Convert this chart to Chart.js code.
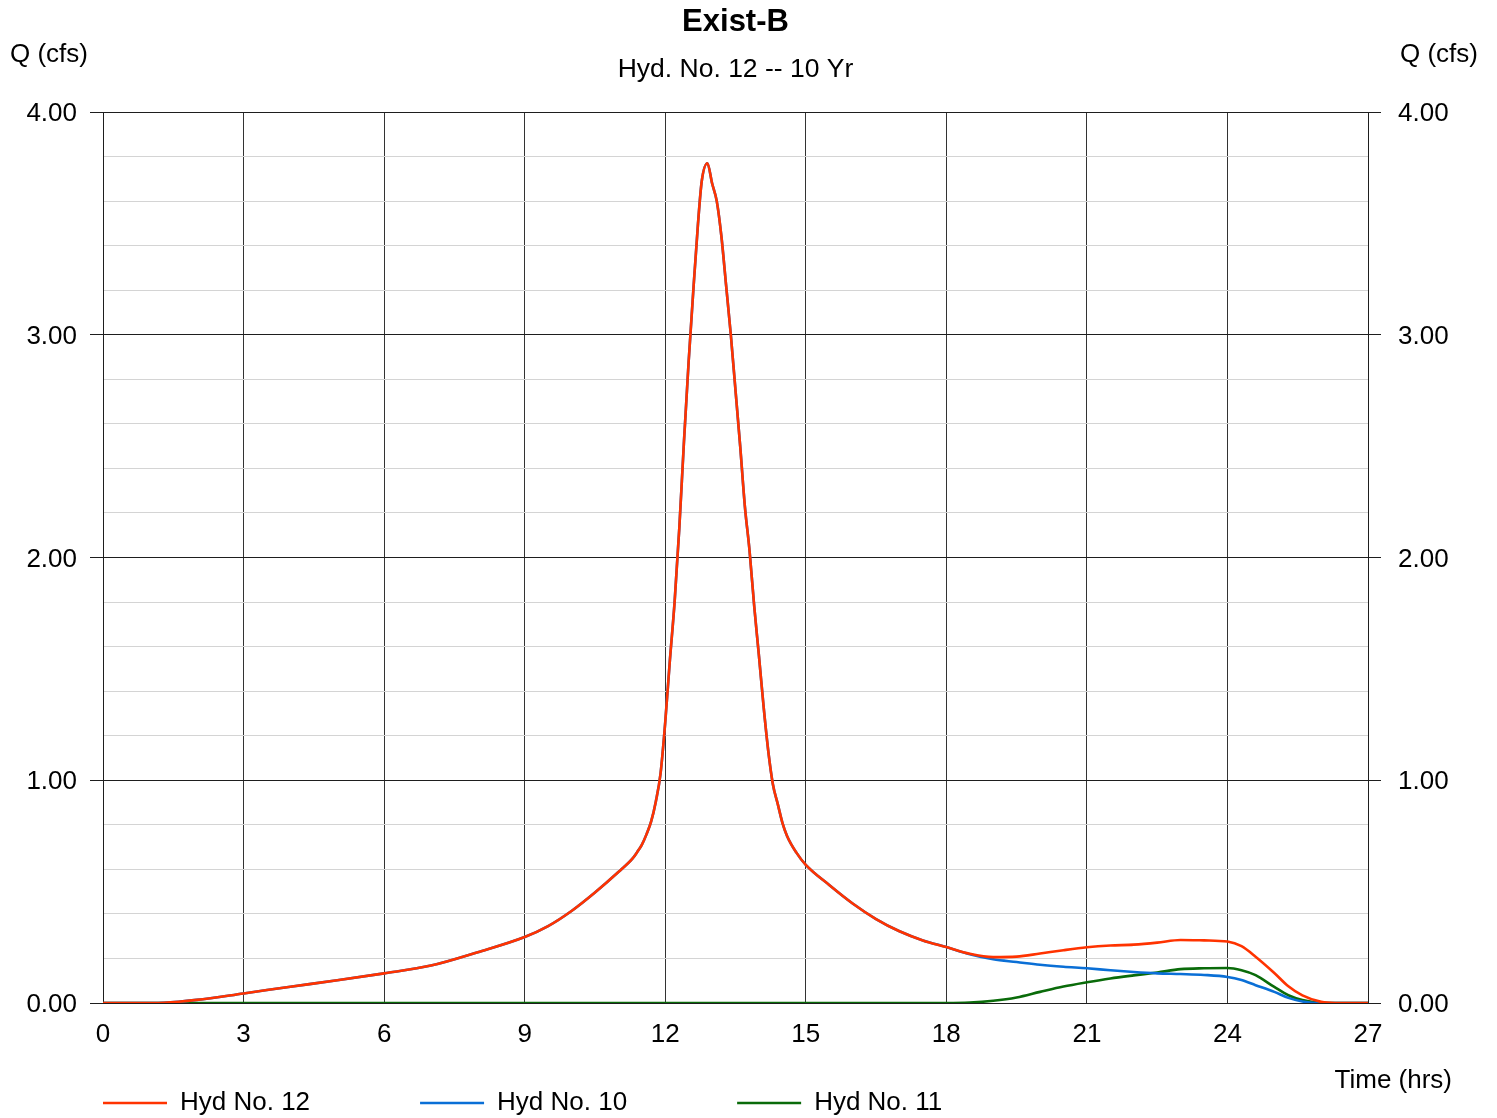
<!DOCTYPE html>
<html>
<head>
<meta charset="utf-8">
<script src="https://cdn.jsdelivr.net/npm/chart.js@4.4.1/dist/chart.umd.min.js"></script>
<style>
html,body{margin:0;padding:0;background:#fff;}
#wrap{width:1497px;height:1118px;position:relative;}
</style>
</head>
<body>
<div id="wrap"><canvas id="c" width="1497" height="1118"></canvas></div>
<script>
// ---- data ----
const times = [0, 1, 1.3, 2, 3, 4, 5, 6, 7, 8, 9, 9.5, 10, 10.5, 11, 11.3, 11.4, 11.5, 11.6, 11.7, 11.8, 11.9,
  12.0, 12.1, 12.2, 12.3, 12.4, 12.5, 12.6, 12.7, 12.78, 12.9, 13.0, 13.1, 13.2, 13.3, 13.4, 13.5, 13.6, 13.7, 13.8, 13.9,
  14.0, 14.1, 14.2, 14.3, 14.4, 14.5, 14.6, 14.8, 15.0, 15.5, 16, 16.5, 17, 17.5, 18, 18.5, 19, 19.5, 20, 20.5,
  21, 21.5, 22, 22.5, 23, 23.5, 24, 24.3, 24.6, 25, 25.3, 25.6, 26, 26.3, 27];

const hyd12 = [0, 0, 0.001, 0.014, 0.043, 0.073, 0.102, 0.133, 0.168, 0.228, 0.296, 0.345, 0.413, 0.496, 0.588, 0.648, 0.677, 0.71, 0.757, 0.815, 0.905, 1.03,
  1.26, 1.54, 1.80, 2.13, 2.52, 2.88, 3.20, 3.50, 3.69, 3.77, 3.68, 3.60, 3.44, 3.22, 3.00, 2.75, 2.50, 2.23, 2.03, 1.78,
  1.56, 1.33, 1.13, 0.98, 0.895, 0.81, 0.75, 0.675, 0.620, 0.530, 0.447, 0.377, 0.322, 0.281, 0.251, 0.221, 0.206, 0.208, 0.222, 0.237,
  0.250, 0.258, 0.262, 0.271, 0.283, 0.281, 0.276, 0.255, 0.208, 0.135, 0.075, 0.034, 0.005, 0, 0];

const hyd10 = [0, 0, 0.001, 0.014, 0.043, 0.073, 0.102, 0.133, 0.168, 0.228, 0.296, 0.345, 0.413, 0.496, 0.588, 0.648, 0.677, 0.71, 0.757, 0.815, 0.905, 1.03,
  1.26, 1.54, 1.80, 2.13, 2.52, 2.88, 3.20, 3.50, 3.69, 3.77, 3.68, 3.60, 3.44, 3.22, 3.00, 2.75, 2.50, 2.23, 2.03, 1.78,
  1.56, 1.33, 1.13, 0.98, 0.895, 0.81, 0.75, 0.675, 0.620, 0.530, 0.447, 0.377, 0.322, 0.281, 0.251, 0.219, 0.196, 0.184, 0.172, 0.163,
  0.156, 0.147, 0.139, 0.133, 0.130, 0.126, 0.117, 0.103, 0.080, 0.050, 0.023, 0.007, 0, 0, 0];

const hyd11 = [0, 0, 0, 0, 0, 0, 0, 0, 0, 0, 0, 0, 0, 0, 0, 0, 0, 0, 0, 0, 0, 0,
  0, 0, 0, 0, 0, 0, 0, 0, 0, 0, 0, 0, 0, 0, 0, 0, 0, 0, 0, 0,
  0, 0, 0, 0, 0, 0, 0, 0, 0, 0, 0, 0, 0, 0, 0, 0.002, 0.010, 0.025, 0.050, 0.074,
  0.093, 0.110, 0.124, 0.137, 0.152, 0.156, 0.157, 0.147, 0.125, 0.072, 0.035, 0.013, 0.001, 0, 0];

const seriesNames = ['Hyd No. 12', 'Hyd No. 10', 'Hyd No. 11'];
const seriesColors = ['#ff3300', '#0a6fd6', '#0a6b0a'];
const chartTitle = 'Exist-B';
const chartSubtitle = 'Hyd. No. 12 -- 10 Yr';
const yAxisTitle = 'Q (cfs)';
const xAxisTitle = 'Time (hrs)';
const xRange = [0, 27];
const xStep = 3;
const yRange = [0, 4];
const yMinorStep = 0.2;

// ---- chart ----
const FONT = '"Liberation Sans", Arial, Helvetica, sans-serif';
Chart.defaults.font.family = FONT;
Chart.defaults.font.size = 26;
Chart.defaults.color = '#000';

const toPoints = (ys) => times.map((t, i) => ({x: t, y: ys[i]}));
const allSeries = [hyd12, hyd10, hyd11];

const isMajor = (v) => Math.abs(v - Math.round(v)) < 1e-6;
const MAJOR = '#1e1e1e';
const MINOR = '#d4d4d4';

const tweaks = {
  id: 'tweaks',
  afterLayout(chart) {
    const lg = chart.legend;
    if (!lg) return;
    const P = lg.options.labels.padding;
    const ca = chart.chartArea;
    lg.left = ca.left - P;
    lg.right = chart.width;
    lg.width = lg.right - lg.left;
    lg.top = ca.bottom + 87 - P;
    lg.bottom = chart.height;
    lg.height = lg.bottom - lg.top;
  },
  afterDraw(chart) {
    const ctx = chart.ctx;
    ctx.save();
    ctx.font = '26px ' + FONT;
    ctx.fillStyle = '#000';
    ctx.textBaseline = 'middle';
    ctx.textAlign = 'left';
    ctx.fillText(yAxisTitle, 10, 55);
    ctx.textAlign = 'right';
    ctx.fillText(yAxisTitle, 1478, 55);
    ctx.fillText(xAxisTitle, 1452, 1081);
    ctx.restore();
  }
};

new Chart(document.getElementById('c'), {
  type: 'line',
  data: {
    datasets: allSeries.map((ys, i) => ({
      label: seriesNames[i],
      data: toPoints(ys),
      borderColor: seriesColors[i],
      backgroundColor: seriesColors[i],
      borderWidth: 2.6,
      pointRadius: 0,
      cubicInterpolationMode: 'monotone',
      fill: false
    }))
  },
  options: {
    responsive: false,
    animation: false,
    devicePixelRatio: 1,
    layout: { padding: { left: 0, right: 26, top: 0, bottom: 0 } },
    plugins: {
      title: {
        display: true, text: chartTitle,
        font: { size: 31, weight: 'bold', lineHeight: 1.2 },
        padding: { top: 4, bottom: 0 }, color: '#000'
      },
      subtitle: {
        display: true, text: chartSubtitle,
        font: { size: 26.5, lineHeight: 1.2 },
        padding: { top: 13, bottom: 26 }, color: '#000'
      },
      legend: {
        display: true, position: 'bottom', align: 'start', maxHeight: 30,
        labels: {
          usePointStyle: true, pointStyle: 'line', pointStyleWidth: 64,
          padding: 110, font: { size: 26 }, color: '#000'
        }
      },
      tooltip: { enabled: false }
    },
    scales: {
      x: {
        type: 'linear', min: xRange[0], max: xRange[1],
        ticks: { stepSize: xStep, padding: 16, maxRotation: 0, autoSkip: false },
        grid: { color: '#333', lineWidth: 1, drawTicks: false },
        border: { color: MAJOR },
        afterFit(s) { s.height = 85; }
      },
      y: {
        position: 'left', min: yRange[0], max: yRange[1],
        ticks: {
          stepSize: yMinorStep, padding: 13, autoSkip: false, labelOffset: 2,
          callback: (v) => isMajor(v) ? Number(v).toFixed(2) : ''
        },
        grid: {
          color: (c) => (c.tick && isMajor(c.tick.value)) ? MAJOR : MINOR,
          tickColor: (c) => (c.tick && isMajor(c.tick.value)) ? MAJOR : 'rgba(0,0,0,0)',
          tickLength: 13, lineWidth: 1
        },
        border: { color: MAJOR },
        afterFit(s) { s.width = 103; }
      },
      y2: {
        position: 'right', min: yRange[0], max: yRange[1],
        ticks: {
          stepSize: yMinorStep, padding: 17, autoSkip: false, labelOffset: 2,
          callback: (v) => isMajor(v) ? Number(v).toFixed(2) : ''
        },
        grid: {
          drawOnChartArea: false,
          tickColor: (c) => (c.tick && isMajor(c.tick.value)) ? MAJOR : 'rgba(0,0,0,0)',
          tickLength: 13, lineWidth: 1
        },
        border: { color: MAJOR },
        afterFit(s) { s.width = 103; }
      }
    }
  },
  plugins: [tweaks]
});
</script>
</body>
</html>
